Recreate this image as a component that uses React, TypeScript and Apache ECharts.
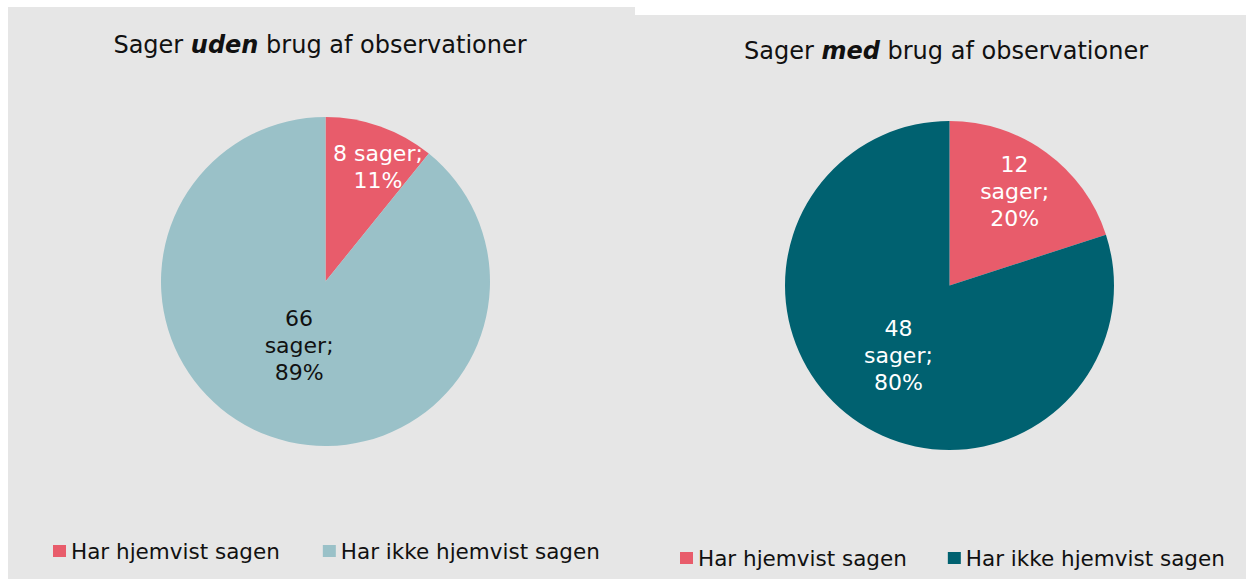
import React, { useEffect, useRef } from "react";
import * as echarts from "echarts";

const categories = ["Har hjemvist sagen", "Har ikke hjemvist sagen"];
const udenValues = [8, 66];
const medValues = [12, 48];
const udenColors = ["#e85c6b", "#9ac1c8"];
const medColors = ["#e85c6b", "#006170"];
const udenLabelColors = ["#ffffff", "#111111"];
const medLabelColors = ["#ffffff", "#ffffff"];
const titleUden = "Sager {b|uden} brug af observationer";
const titleMed = "Sager {b|med} brug af observationer";

const FONT = "DejaVu Sans";

type PanelCfg = {
  values: number[];
  colors: string[];
  labelColors: string[];
  title: string;
  center: [number, number];
  titlePos: [number, number];
  legendLeft: number;
  legendTop: number;
  legendGap: number;
  nudges: [number, number][];
  wrapFirst: boolean;
};

function buildOption(cfg: PanelCfg) {
  const data = categories.map((name, i) => ({
    name,
    value: cfg.values[i],
    itemStyle: { color: cfg.colors[i] },
    label: { color: cfg.labelColors[i] },
  }));
  return {
    animation: false,
    backgroundColor: "#e6e6e6",
    graphic: [
      {
        type: "text",
        x: cfg.titlePos[0],
        y: cfg.titlePos[1],
        style: {
          text: cfg.title,
          fontFamily: FONT,
          fontSize: 24,
          fill: "#111111",
          align: "center",
          verticalAlign: "middle",
          rich: {
            b: {
              fontFamily: FONT,
              fontSize: 24,
              fontWeight: "bold",
              fontStyle: "italic",
              fill: "#111111",
            },
          },
        },
      },
    ],
    legend: {
      data: categories,
      left: cfg.legendLeft,
      top: cfg.legendTop,
      padding: 0,
      icon: "rect",
      itemWidth: 13,
      itemHeight: 12,
      itemGap: cfg.legendGap,
      selectedMode: false,
      textStyle: {
        fontFamily: FONT,
        fontSize: 21.5,
        lineHeight: 22,
        color: "#111111",
      },
    },
    series: [
      {
        type: "pie",
        radius: 164.5,
        center: cfg.center,
        startAngle: 90,
        clockwise: true,
        data,
        itemStyle: { borderWidth: 0 },
        label: {
          show: true,
          position: "inside",
          fontFamily: FONT,
          fontSize: 22,
          lineHeight: 27,
          align: "center",
          formatter: (p: any) => {
            const pct = Math.round(p.percent);
            if (p.dataIndex === 0 && !cfg.wrapFirst) return `${p.value} sager;\n${pct}%`;
            return `${p.value}\nsager;\n${pct}%`;
          },
        },
        labelLine: { show: false },
        labelLayout: (params: any) => {
          const n = cfg.nudges[params.dataIndex] || [0, 0];
          return { dx: n[0], dy: n[1] };
        },
        emphasis: { disabled: true },
      },
    ],
  };
}

function Panel({ style, cfg }: { style: React.CSSProperties; cfg: PanelCfg }) {
  const ref = useRef<HTMLDivElement>(null);
  useEffect(() => {
    if (!ref.current) return;
    const chart = echarts.init(ref.current, undefined, { renderer: "svg" });
    chart.setOption(buildOption(cfg) as any);
    return () => chart.dispose();
  }, []);
  return <div ref={ref} style={{ position: "absolute", ...style }} />;
}

export default function App() {
  const left: PanelCfg = {
    values: udenValues,
    colors: udenColors,
    labelColors: udenLabelColors,
    title: titleUden,
    center: [317.5, 274.5],
    titlePos: [312, 38],
    legendLeft: 45,
    legendTop: 533,
    legendGap: 43,
    nudges: [
      [24, -34],
      [2, -16],
    ],
    wrapFirst: false,
  };
  const right: PanelCfg = {
    values: medValues,
    colors: medColors,
    labelColors: medLabelColors,
    title: titleMed,
    center: [314.5, 270.5],
    titlePos: [311, 36],
    legendLeft: 45,
    legendTop: 532,
    legendGap: 41,
    nudges: [
      [15, -25],
      [-1, 1],
    ],
    wrapFirst: true,
  };
  return (
    <div
      style={{
        position: "fixed",
        left: 0,
        top: 0,
        width: 1246,
        height: 579,
        background: "#ffffff",
        overflow: "hidden",
      }}
    >
      <Panel style={{ left: 8, top: 7, width: 627, height: 572 }} cfg={left} />
      <Panel style={{ left: 635, top: 15, width: 611, height: 564 }} cfg={right} />
    </div>
  );
}
